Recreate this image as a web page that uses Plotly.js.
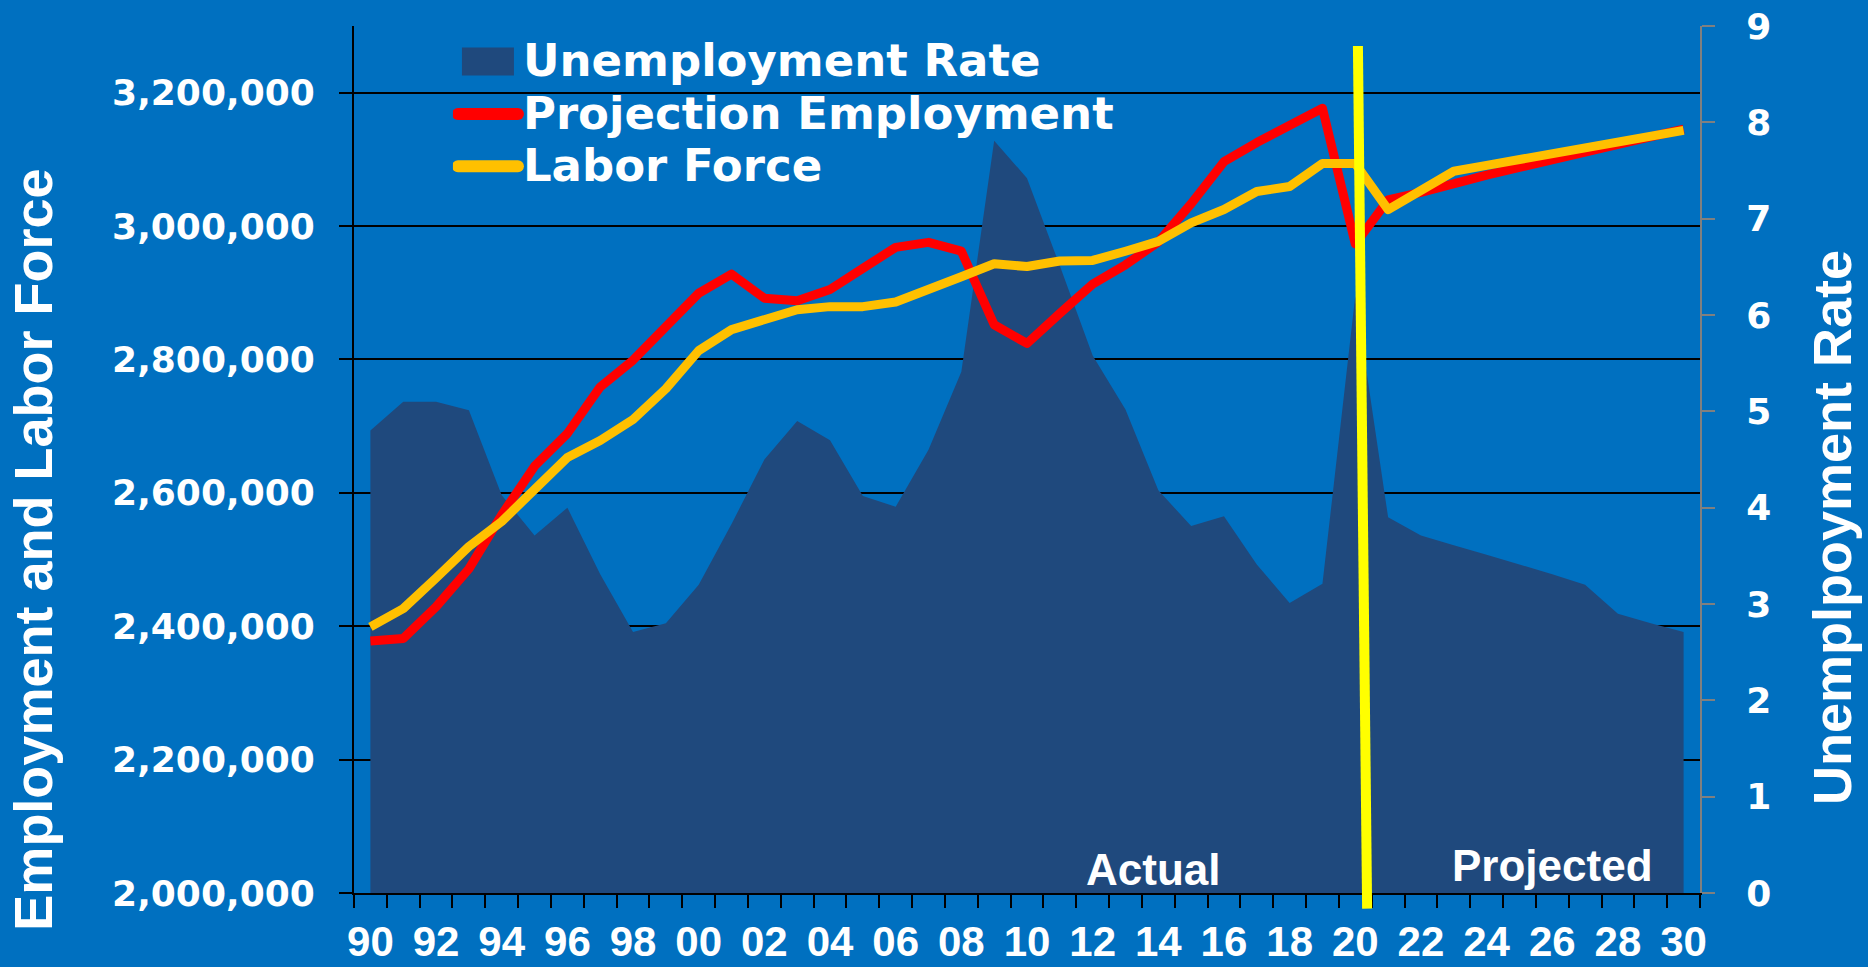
<!DOCTYPE html>
<html>
<head>
<meta charset="utf-8">
<script src="https://cdn.plot.ly/plotly-3.0.1.min.js"></script>
<style>
html, body { margin: 0; padding: 0; background: #0070C0; }
#chart { width: 1868px; height: 967px; }
.legendlines path { stroke-linecap: round; stroke-width: 12px !important; }
.scatterlayer .js-line { stroke-linejoin: round; }
</style>
</head>
<body>
<div id="chart"></div>
<script>
// ---- Data ----
const YEARS = [1990, 1991, 1992, 1993, 1994, 1995, 1996, 1997, 1998, 1999,
               2000, 2001, 2002, 2003, 2004, 2005, 2006, 2007, 2008, 2009,
               2010, 2011, 2012, 2013, 2014, 2015, 2016, 2017, 2018, 2019,
               2020, 2021, 2022, 2023, 2024, 2025, 2026, 2027, 2028, 2029, 2030];

const UNEMPLOYMENT_RATE = [4.80, 5.10, 5.10, 5.01, 4.13, 3.71, 4.00, 3.31, 2.71, 2.80,
                           3.20, 3.83, 4.50, 4.90, 4.70, 4.12, 4.01, 4.60, 5.41, 7.81,
                           7.42, 6.51, 5.58, 5.02, 4.18, 3.81, 3.91, 3.41, 3.01, 3.21,
                           6.20, 3.90, 3.71, 3.61, 3.51, 3.41, 3.31, 3.20, 2.90, 2.80, 2.71];

const PROJECTION_EMPLOYMENT = [2377700, 2381600, 2429200, 2486000, 2567000, 2640000, 2689000, 2758800, 2798900, 2847700,
                               2899300, 2927900, 2891800, 2887900, 2905000, 2936600, 2968100, 2975600, 2962400, 2852000,
                               2824000, 2869000, 2913000, 2942000, 2976100, 3033500, 3096600, 3125200, 3150900, 3176700,
                               2973300, 3039200, 3050600, 3065000, 3076500, 3087900, 3099400, 3110800, 3122300, 3133700, 3145300];

const LABOR_FORCE = [2399000, 2426400, 2472200, 2519500, 2557000, 2603000, 2653000, 2678600, 2710100, 2756100,
                     2813300, 2844700, 2859100, 2874600, 2879200, 2879200, 2886100, 2903300, 2924000, 2943500,
                     2939300, 2947600, 2948500, 2962300, 2977000, 3004800, 3024800, 3051800, 3059300, 3093800,
                     3093800, 3024800, 3053600, 3082200, 3091000, 3099700, 3108500, 3117300, 3126100, 3134800, 3143500];

const TICK_YEARS = [1990, 1992, 1994, 1996, 1998, 2000, 2002, 2004, 2006, 2008, 2010,
                    2012, 2014, 2016, 2018, 2020, 2022, 2024, 2026, 2028, 2030];
const TICK_LABELS = ['90', '92', '94', '96', '98', '00', '02', '04', '06', '08', '10',
                     '12', '14', '16', '18', '20', '22', '24', '26', '28', '30'];

const SERIES_NAMES = ['Unemployment Rate', 'Projection Employment', 'Labor Force'];
const AXIS_TITLES = ['Employment and Labor Force', 'Unemplpoyment Rate'];
const PERIOD_LABELS = ['Actual', 'Projected'];
const DIVIDER_YEAR = [2020.08, 2020.36];

// Category boundaries (tick marks sit between the yearly categories)
const CATEGORY_EDGES = YEARS.map(y => y - 0.5).concat([YEARS[YEARS.length - 1] + 0.5]);

// ---- Styling ----
const WHITE = '#FFFFFF';
const legendName = (s) => '<span style="font-size:45px">' + s + '</span>';

const traces = [
  {
    type: 'scatter', x: YEARS, y: UNEMPLOYMENT_RATE, yaxis: 'y',
    mode: 'none', fill: 'tozeroy', fillcolor: '#1F497D',
    name: legendName(SERIES_NAMES[0]), hoverinfo: 'skip'
  },
  {
    type: 'scatter', x: YEARS, y: PROJECTION_EMPLOYMENT, yaxis: 'y2',
    mode: 'lines', line: { color: '#FF0000', width: 9 },
    name: legendName(SERIES_NAMES[1]), hoverinfo: 'skip'
  },
  {
    type: 'scatter', x: YEARS, y: LABOR_FORCE, yaxis: 'y2',
    mode: 'lines', line: { color: '#FFC000', width: 9 },
    name: legendName(SERIES_NAMES[2]), hoverinfo: 'skip'
  }
];

const tickFontWide = { family: 'DejaVu Sans', size: 36, color: WHITE, weight: 'bold' };

const layout = {
  width: 1868, height: 967, autosize: false,
  paper_bgcolor: '#0070C0', plot_bgcolor: '#0070C0',
  margin: { l: 354, r: 168, t: 26, b: 74, pad: 0 },
  font: { family: 'DejaVu Sans', color: WHITE, weight: 'bold' },
  showlegend: true,
  legend: {
    x: 0.0735, xanchor: 'left', y: 0.995, yanchor: 'top',
    bgcolor: 'rgba(0,0,0,0)', borderwidth: 0,
    font: { family: 'DejaVu Sans', size: 38, color: WHITE, weight: 'bold' },
    itemwidth: 60, tracegroupgap: 0, traceorder: 'normal'
  },
  xaxis: {
    range: [1989.5, 2030.5], tickmode: 'array', tickvals: TICK_YEARS, ticktext: TICK_LABELS,
    ticks: '', showgrid: false, zeroline: false,
    showline: true, linecolor: '#000000', linewidth: 2,
    tickfont: { family: 'Liberation Sans', size: 42, color: WHITE, weight: 'bold' },
    ticklabelstandoff: 11,
    minor: { tickmode: 'array', tickvals: CATEGORY_EDGES, ticks: 'outside', ticklen: 13, tickwidth: 2, tickcolor: '#000000', showgrid: false }
  },
  yaxis: {
    range: [0, 9], side: 'right', tick0: 0, dtick: 1,
    showgrid: false, zeroline: false,
    showline: true, linecolor: '#808080', linewidth: 2,
    ticks: 'outside', ticklen: 13, tickwidth: 2, tickcolor: '#808080',
    tickfont: tickFontWide, ticklabelstandoff: 24
  },
  yaxis2: {
    range: [2000000, 3300000], overlaying: 'y', side: 'left',
    tick0: 2000000, dtick: 200000, tickformat: ',d',
    showgrid: true, gridcolor: '#000000', gridwidth: 2, zeroline: false,
    showline: true, linecolor: '#000000', linewidth: 2,
    ticks: 'outside', ticklen: 13, tickwidth: 2, tickcolor: '#000000',
    tickfont: tickFontWide, ticklabelstandoff: 17
  },
  shapes: [
    {
      type: 'line', xref: 'x', yref: 'paper',
      x0: DIVIDER_YEAR[0], y0: 0.977, x1: DIVIDER_YEAR[1], y1: -0.018,
      line: { color: '#FFFF00', width: 10 }, layer: 'above'
    }
  ],
  annotations: [
    {
      text: PERIOD_LABELS[0], xref: 'x', yref: 'paper', x: 2013.84, y: 0.027,
      xanchor: 'center', yanchor: 'middle', showarrow: false,
      font: { family: 'Liberation Sans', size: 44, color: WHITE, weight: 'bold' }
    },
    {
      text: PERIOD_LABELS[1], xref: 'x', yref: 'paper', x: 2026.02, y: 0.032,
      xanchor: 'center', yanchor: 'middle', showarrow: false,
      font: { family: 'Liberation Sans', size: 44, color: WHITE, weight: 'bold' }
    },
    {
      text: AXIS_TITLES[0], xref: 'paper', yref: 'paper', x: -0.2385, y: 0.396,
      xanchor: 'center', yanchor: 'middle', textangle: -90, showarrow: false,
      font: { family: 'Liberation Sans', size: 54, color: WHITE, weight: 'bold' }
    },
    {
      text: AXIS_TITLES[1], xref: 'paper', yref: 'paper', x: 1.098, y: 0.422,
      xanchor: 'center', yanchor: 'middle', textangle: -90, showarrow: false,
      font: { family: 'Liberation Sans', size: 54, color: WHITE, weight: 'bold' }
    }
  ]
};

Plotly.newPlot('chart', traces, layout, { staticPlot: true, displayModeBar: false }).then(function (gd) {
  // Enlarge the area legend swatch to a block, as in the reference.
  const fillPath = gd.querySelector('.legend .traces .legendfill path');
  if (fillPath) {
    const bb = fillPath.getBBox();
    const x0 = bb.x + 4, w = bb.width - 8;
    fillPath.setAttribute('d', 'M' + x0 + ',-14h' + w + 'v28h-' + w + 'z');
  }
});
</script>
</body>
</html>
